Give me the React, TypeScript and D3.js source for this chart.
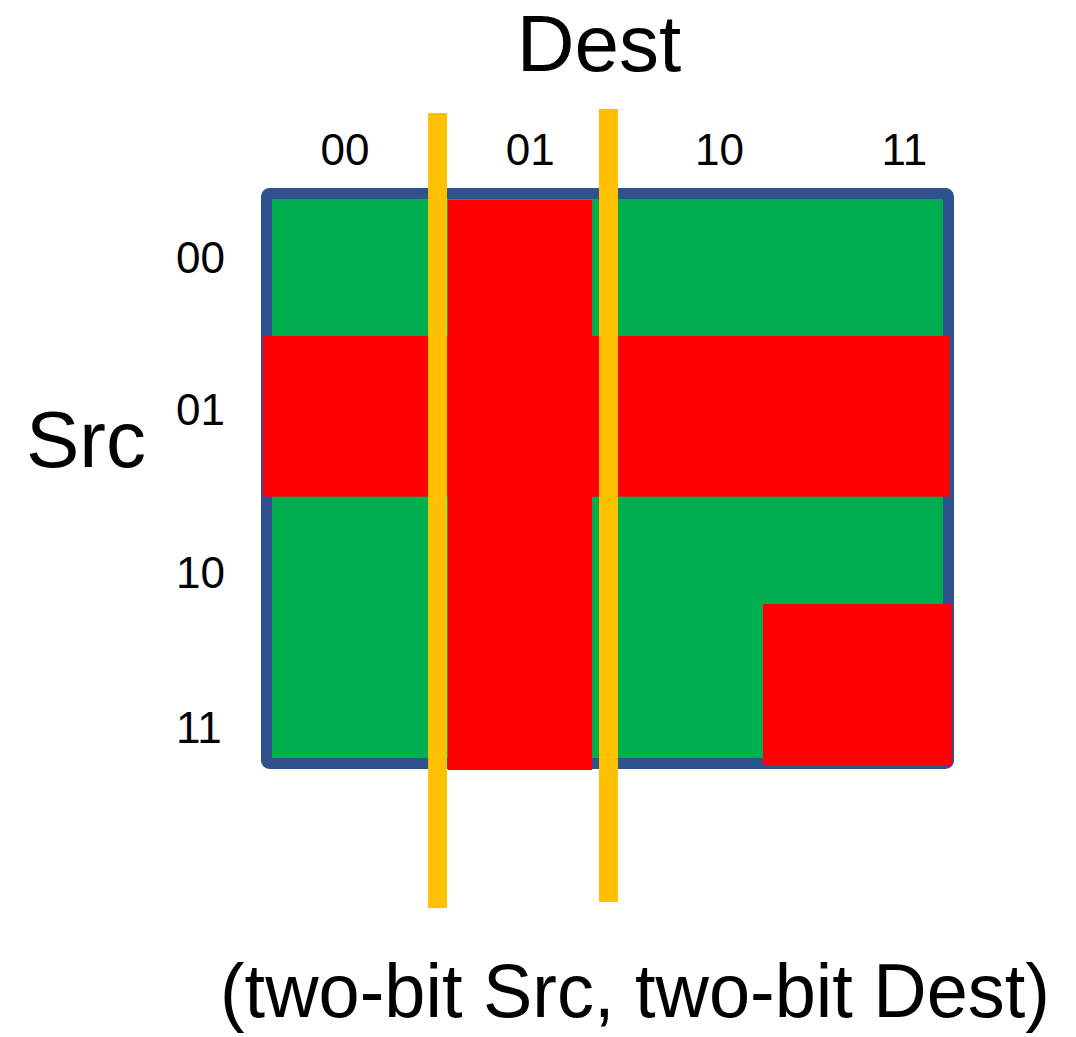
import React from "react";
import * as d3 from "d3";

// Grid categories
const destLabels = ["00", "01", "10", "11"];
const srcLabels = ["00", "01", "10", "11"];

// Cell states (row = Src, col = Dest): 1 = blocked (red), 0 = allowed (green)
const cellMatrix = [
  [0, 1, 0, 0],
  [1, 1, 1, 1],
  [0, 1, 0, 0],
  [0, 1, 0, 1],
];

// Red regions as drawn (grid units: col0..col1, row0..row1)
const redCol0 = [1.049, -0.054, 2.927];
const redCol1 = [1.908, 4.04, 4.054];
const redRow0 = [0.007, 0.98, 2.898];
const redRow1 = [4.086, 2.13, 4.05];

// Cut lines (grid units)
const cutX = [0.987, 2.006];
const cutTop = [-0.615, -0.644];
const cutBottom = [5.074, 5.03];

// Label positions (grid units)
const rowLabelPos = [0.53, 1.62, 2.78, 3.89];
const colLabelPos = [0.435, 1.54, 2.668, 3.77];

const W = 1076;
const H = 1037;

export default function App() {
  const x = d3.scaleLinear().domain([0, 4]).range([272, 943]);
  const y = d3.scaleLinear().domain([0, 4]).range([199, 758]);

  const font = "'Liberation Sans', Arial, sans-serif";
  const redBlocks = redCol0.map((c0, i) => ({
    c0,
    c1: redCol1[i],
    r0: redRow0[i],
    r1: redRow1[i],
  }));

  const nRed = d3.sum(cellMatrix.flat());

  return (
    <svg
      width={W}
      height={H}
      style={{ position: "absolute", left: 0, top: 0, background: "#fff" }}
      data-red-cells={nRed}
    >
      <rect x={0} y={0} width={W} height={H} fill="#ffffff" />
      <rect
        x={x(0) - 5.5}
        y={y(0) - 5.5}
        width={x(4) - x(0) + 11}
        height={y(4) - y(0) + 11}
        fill="#00B050"
        stroke="#2F528F"
        strokeWidth={11}
        rx={3}
      />
      {redBlocks.map((b, i) => (
        <rect
          key={i}
          x={x(b.c0)}
          y={y(b.r0)}
          width={x(b.c1) - x(b.c0)}
          height={y(b.r1) - y(b.r0)}
          fill="#FF0000"
        />
      ))}
      {cutX.map((cx, i) => (
        <rect
          key={"cut" + i}
          x={x(cx) - 9.5}
          y={y(cutTop[i])}
          width={19}
          height={y(cutBottom[i]) - y(cutTop[i])}
          fill="#FFC000"
        />
      ))}
      {destLabels.map((d, i) => (
        <text
          key={"c" + d}
          x={x(colLabelPos[i])}
          y={165}
          textAnchor="middle"
          fontFamily={font}
          fontSize={44}
          fill="#000"
        >
          {d}
        </text>
      ))}
      {srcLabels.map((d, i) => (
        <text
          key={"r" + d}
          x={176}
          y={y(rowLabelPos[i])}
          textAnchor="start"
          fontFamily={font}
          fontSize={44}
          fill="#000"
        >
          {d}
        </text>
      ))}
      <text x={599} y={71} textAnchor="middle" fontFamily={font} fontSize={80} fill="#000">
        Dest
      </text>
      <text x={26} y={467} textAnchor="start" fontFamily={font} fontSize={80} fill="#000">
        Src
      </text>
      <text
        x={220}
        y={1017}
        fontFamily={font}
        fontSize={76}
        textLength={830}
        lengthAdjust="spacingAndGlyphs"
        fill="#000"
      >
        (two-bit Src, two-bit Dest)
      </text>
    </svg>
  );
}
